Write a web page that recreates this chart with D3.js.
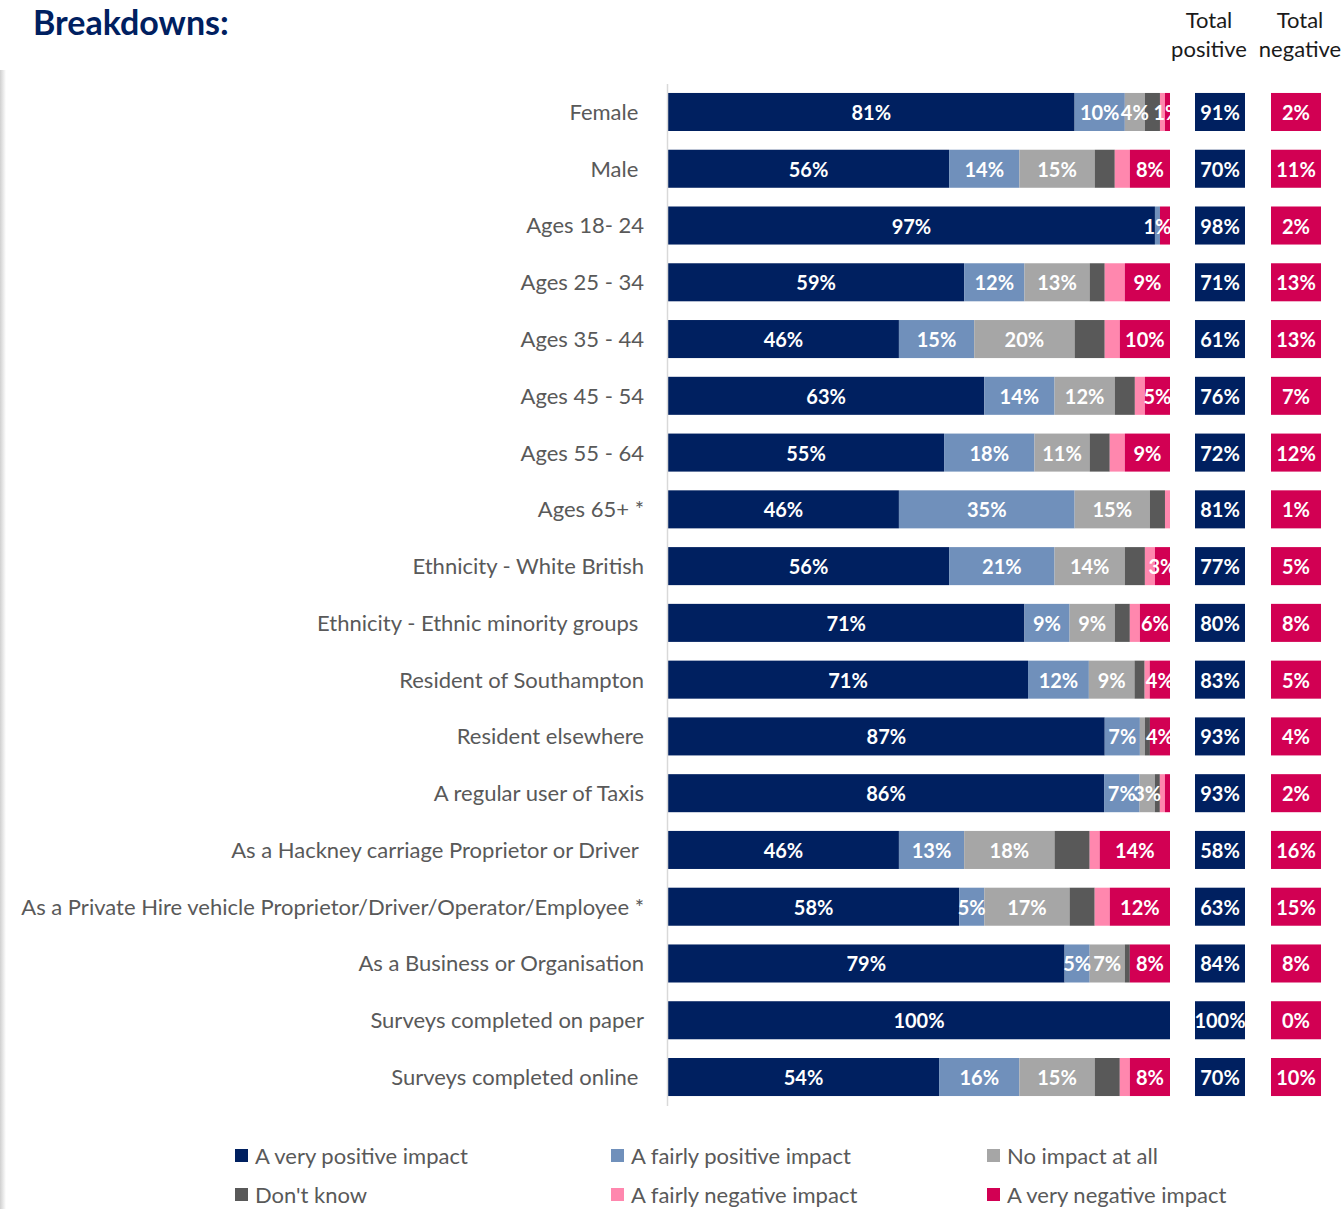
<!DOCTYPE html>
<html>
<head>
<meta charset="utf-8">
<script src="https://cdn.jsdelivr.net/npm/d3@7"></script>
<style>
  html, body { margin: 0; padding: 0; background: #fff; }
  svg { display: block; }
  text { font-family: Lato, "Open Sans", sans-serif; }
</style>
</head>
<body>
<svg id="chart" width="1344" height="1209"></svg>
<script>
const categories = [
  "Female ",
  "Male ",
  "Ages 18- 24",
  "Ages 25 - 34",
  "Ages 35 - 44",
  "Ages 45 - 54",
  "Ages 55 - 64",
  "Ages 65+ *",
  "Ethnicity - White British",
  "Ethnicity - Ethnic minority groups ",
  "Resident of Southampton",
  "Resident elsewhere",
  "A regular user of Taxis",
  "As a Hackney carriage Proprietor or Driver ",
  "As a Private Hire vehicle Proprietor/Driver/Operator/Employee *",
  "As a Business or Organisation",
  "Surveys completed on paper",
  "Surveys completed online "
];
const seriesNames = [
  "A very positive impact",
  "A fairly positive impact",
  "No impact at all",
  "Don't know",
  "A fairly negative impact",
  "A very negative impact"
];
const veryPositive   = [81, 56, 97, 59, 46, 63, 55, 46, 56, 71, 71, 87, 86, 46, 58, 79, 100, 54];
const fairlyPositive = [10, 14,  1, 12, 15, 14, 18, 35, 21,  9, 12,  7,  7, 13,  5,  5,   0, 16];
const noImpact       = [ 4, 15,  0, 13, 20, 12, 11, 15, 14,  9,  9,  1,  3, 18, 17,  7,   0, 15];
const dontKnow       = [ 3,  4,  0,  3,  6,  4,  4,  3,  4,  3,  2,  1,  1,  7,  5,  1,   0,  5];
const fairlyNegative = [ 1,  3,  0,  4,  3,  2,  3,  1,  2,  2,  1,  0,  1,  2,  3,  0,   0,  2];
const veryNegative   = [ 1,  8,  2,  9, 10,  5,  9,  0,  3,  6,  4,  4,  1, 14, 12,  8,   0,  8];
const totalPositive  = [91, 70, 98, 71, 61, 76, 72, 81, 77, 80, 83, 93, 93, 58, 63, 84, 100, 70];
const totalNegative  = [ 2, 11,  2, 13, 13,  7, 12,  1,  5,  8,  5,  4,  2, 16, 15,  8,   0, 10];
// series whose segments carry a value label, and labels not shown in the original
const labelledSeries = ["A very positive impact", "A fairly positive impact", "No impact at all", "A very negative impact"];
const hiddenLabels = [
  ["Ages 18- 24", "A very negative impact"],
  ["Resident elsewhere", "No impact at all"],
  ["A regular user of Taxis", "A very negative impact"]
];

const colors = ["#002060", "#7090bb", "#a6a6a6", "#595959", "#ff87ae", "#d20053"];
const seriesValues = [veryPositive, fairlyPositive, noImpact, dontKnow, fairlyNegative, veryNegative];

const rows = categories.map((c, i) => {
  const r = { category: c };
  seriesNames.forEach((s, k) => r[s] = seriesValues[k][i]);
  return r;
});

const svg = d3.select("#chart");

// left panel shadow
const defs = svg.append("defs");
const grad = defs.append("linearGradient").attr("id", "shadow").attr("x1", 0).attr("x2", 1);
grad.append("stop").attr("offset", 0).attr("stop-color", "#d0d0d0");
grad.append("stop").attr("offset", 1).attr("stop-color", "#ffffff");
svg.append("rect").attr("x", 0).attr("y", 70).attr("width", 6).attr("height", 1139).attr("fill", "url(#shadow)");

defs.append("clipPath").attr("id", "plotClip")
  .append("rect").attr("x", 600).attr("y", 0).attr("width", 571).attr("height", 1209);

// title
svg.append("text").attr("x", 33).attr("y", 35)
  .attr("font-size", 34).attr("font-weight", 700).attr("fill", "#002060")
  .text("Breakdowns:");

// headers
[["Total", "positive", 1209], ["Total", "negative", 1300]].forEach(h => {
  const t = svg.append("text").attr("text-anchor", "middle").attr("font-size", 22).attr("fill", "#1a1a1a");
  t.append("tspan").attr("x", h[2]).attr("y", 28).text(h[0]);
  t.append("tspan").attr("x", h[2]).attr("y", 57).text(h[1]);
});

const x = d3.scaleLinear().domain([0, 1]).range([668, 1170]);
const y = d3.scaleBand().domain(categories).range([83.6, 1105.4]).paddingInner(0.33).paddingOuter(0.165);

const stack = d3.stack().keys(seriesNames).offset(d3.stackOffsetExpand);
const stacked = stack(rows);

const layers = svg.append("g").selectAll("g").data(stacked).join("g")
  .attr("fill", (d, i) => colors[i]);

layers.selectAll("rect").data(d => d).join("rect")
  .attr("x", d => x(d[0]))
  .attr("width", d => Math.max(0, x(d[1]) - x(d[0])))
  .attr("y", d => y(d.data.category))
  .attr("height", y.bandwidth());

// segment labels
const labelG = svg.append("g").attr("clip-path", "url(#plotClip)");
stacked.forEach(layer => {
  if (!labelledSeries.includes(layer.key)) return;
  labelG.append("g").selectAll("text")
    .data(layer.filter(d => d.data[layer.key] > 0 &&
      !hiddenLabels.some(h => h[0] === d.data.category.trim() && h[1] === layer.key)))
    .join("text")
    .attr("x", d => (x(d[0]) + x(d[1])) / 2)
    .attr("y", d => y(d.data.category) + y.bandwidth() / 2)
    .attr("dy", "0.4em")
    .attr("text-anchor", "middle")
    .attr("font-size", 20).attr("font-weight", 700).attr("fill", "#ffffff")
    .text(d => d.data[layer.key] + "%");
});

// axis line
const yAxis = d3.axisLeft(y).tickSize(0).tickPadding(23);
const ax = svg.append("g").attr("transform", "translate(667,0)").call(yAxis);
ax.select(".domain").attr("stroke", "#d9d9d9").attr("stroke-width", 1.5);
ax.selectAll(".tick text")
  .attr("font-family", "Lato, sans-serif")
  .attr("font-size", 22).attr("fill", "#595959")
  .attr("dy", "0.36em")
  .style("white-space", "pre");

// total boxes
const boxes = [
  { vals: totalPositive, x0: 1195, color: "#002060" },
  { vals: totalNegative, x0: 1271, color: "#d20053" }
];
boxes.forEach(b => {
  const g = svg.append("g");
  g.selectAll("rect").data(categories).join("rect")
    .attr("x", b.x0).attr("width", 50)
    .attr("y", d => y(d)).attr("height", y.bandwidth())
    .attr("fill", b.color);
  g.selectAll("text").data(categories).join("text")
    .attr("x", b.x0 + 25)
    .attr("y", d => y(d) + y.bandwidth() / 2)
    .attr("dy", "0.4em")
    .attr("text-anchor", "middle")
    .attr("font-size", 20).attr("font-weight", 700).attr("fill", "#ffffff")
    .text((d, i) => b.vals[i] + "%");
});

// legend
const legend = svg.append("g");
seriesNames.forEach((s, i) => {
  const col = i % 3, row = Math.floor(i / 3);
  const lx = 235 + col * 376, ly = 1156 + row * 39;
  legend.append("rect").attr("x", lx).attr("y", ly - 7).attr("width", 13).attr("height", 13).attr("fill", colors[i]);
  legend.append("text").attr("x", lx + 20).attr("y", ly).attr("dy", "0.36em")
    .attr("font-size", 22).attr("fill", "#595959").text(s);
});
</script>
</body>
</html>
